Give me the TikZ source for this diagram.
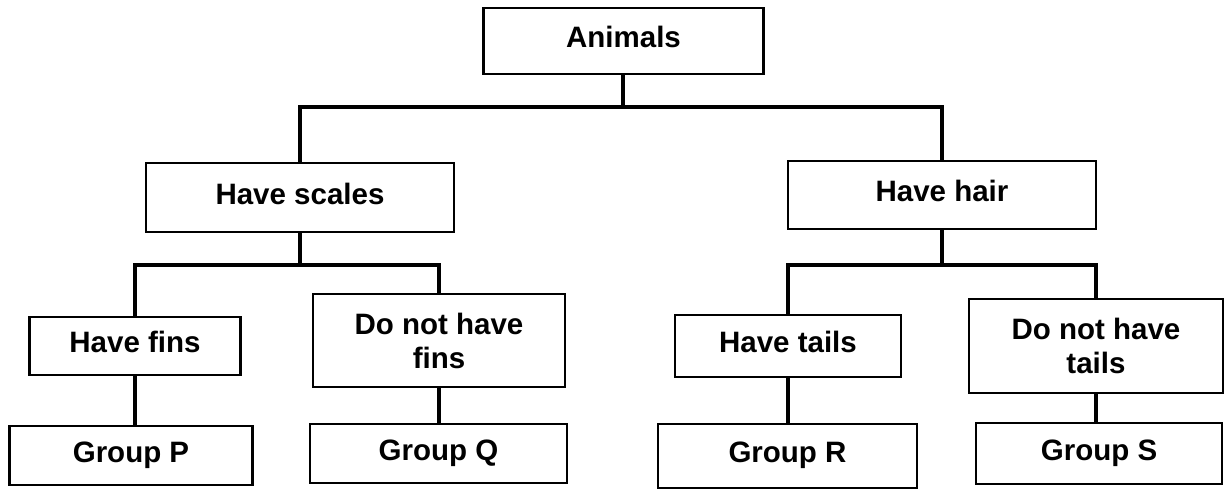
\documentclass[tikz,border=0pt]{standalone}
\usepackage{fontspec}
\setmainfont{Liberation Sans}
\begin{document}
\begin{tikzpicture}[x=1pt,y=-1pt,
  box/.style={draw=black,line width=2.5pt,rectangle,inner sep=0pt,align=center,
    font=\bfseries\fontsize{29.5}{34}\selectfont},
  oneline/.style={text height=21.5pt,text depth=8pt},
  conn/.style={draw=black,line width=3.3pt}]
\useasboundingbox (0,0) rectangle (1224,489);
\fill[white] (0,0) rectangle (1224,489);
% nodes
\node[box,oneline,minimum width=280pt,minimum height=66pt] (animals) at (623.5,41) {Animals};
\node[box,oneline,minimum width=308pt,minimum height=69pt] (scales) at (300,197.5) {Have scales};
\node[box,oneline,minimum width=308pt,minimum height=68pt] (hair) at (942,195) {Have hair};
\node[box,oneline,minimum width=211pt,minimum height=58pt] (fins) at (135,346) {Have fins};
\node[box,minimum width=252pt,minimum height=93pt] (dfins) at (439,340.5) {Do not have\\fins};
\node[box,oneline,minimum width=243pt,minimum height=59pt] (gp) at (131,455.5) {Group P};
\node[box,oneline,minimum width=257pt,minimum height=59pt] (gq) at (438.5,453.5) {Group Q};
\node[box,oneline,minimum width=226pt,minimum height=62pt] (tails) at (788,346) {Have tails};
\node[box,minimum width=254pt,minimum height=94pt] (dtails) at (1096,346) {Do not have\\tails};
\node[box,oneline,minimum width=259pt,minimum height=64pt] (gr) at (787.5,456) {Group R};
\node[box,oneline,minimum width=246pt,minimum height=61pt] (gs) at (1099,453.5) {Group S};
% junctions
\coordinate (j0) at (623,107);
\coordinate (j1) at (300,265);
\coordinate (j2) at (942,265);
% connectors
\draw[conn] (animals.south -| j0) -- (j0);
\draw[conn] (scales.north) |- (j0) -| (hair.north);
\draw[conn] (scales.south) -- (j1);
\draw[conn] (fins.north) |- (j1) -| (dfins.north);
\draw[conn] (hair.south) -- (j2);
\draw[conn] (tails.north) |- (j2) -| (dtails.north);
\draw[conn] (fins.south) -- (fins.south |- gp.north);
\draw[conn] (dfins.south) -- (dfins.south |- gq.north);
\draw[conn] (tails.south) -- (tails.south |- gr.north);
\draw[conn] (dtails.south) -- (dtails.south |- gs.north);
\end{tikzpicture}
\end{document}
